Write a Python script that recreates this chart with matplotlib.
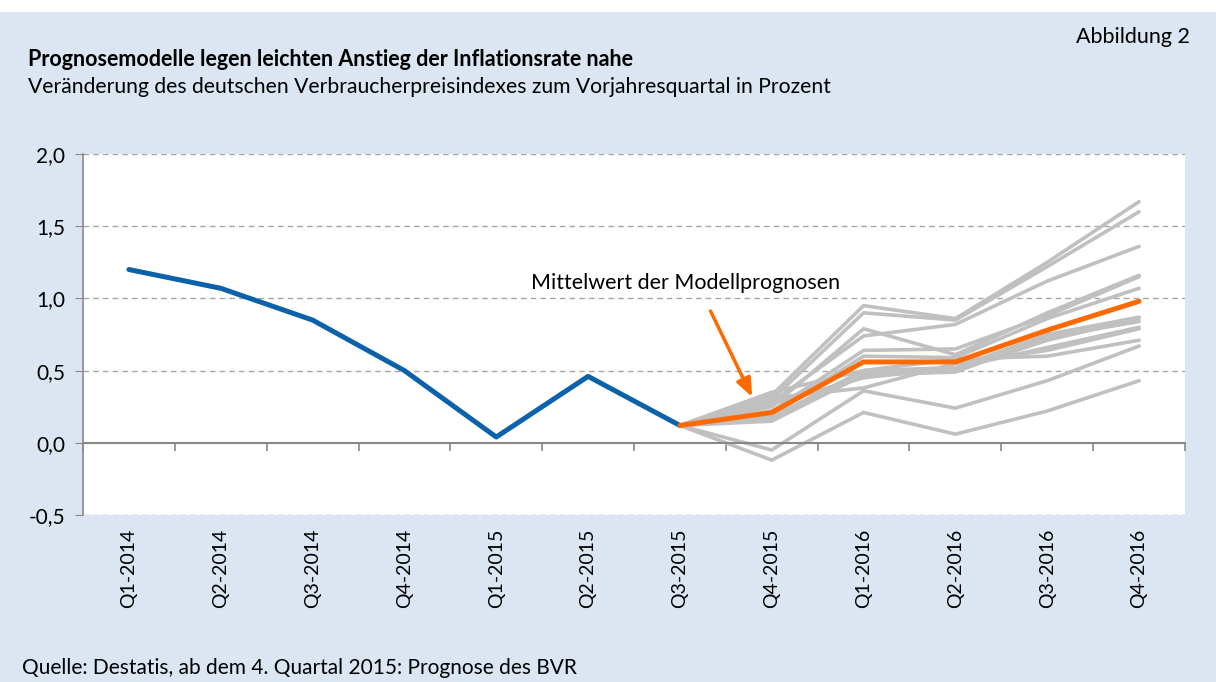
import numpy as np
import matplotlib.pyplot as plt
from matplotlib.patches import Rectangle

plt.rcParams['font.family'] = ['Lato', 'DejaVu Sans']

quarters = ['Q1-2014', 'Q2-2014', 'Q3-2014', 'Q4-2014', 'Q1-2015', 'Q2-2015',
            'Q3-2015', 'Q4-2015', 'Q1-2016', 'Q2-2016', 'Q3-2016', 'Q4-2016']

# Ist-Werte bis Q3-2015
actual = [1.20, 1.07, 0.85, 0.50, 0.04, 0.46, 0.12]

# Mittelwert der Modellprognosen ab Q3-2015
mean_fc = [0.12, 0.21, 0.56, 0.56, 0.78, 0.98]

# einzelne Modellprognosen (Q3-2015 .. Q4-2016)
models = [
    [0.12, 0.33, 0.95, 0.86, 1.25, 1.67],
    [0.12, 0.30, 0.90, 0.85, 1.22, 1.60],
    [0.12, 0.28, 0.74, 0.82, 1.12, 1.36],
    [0.12, 0.25, 0.79, 0.61, 0.90, 1.16],
    [0.12, 0.22, 0.64, 0.65, 0.88, 1.15],
    [0.12, 0.20, 0.60, 0.59, 0.86, 1.07],
    [0.12, 0.18, 0.50, 0.52, 0.75, 0.87],
    [0.12, 0.16, 0.48, 0.50, 0.71, 0.86],
    [0.12, 0.15, 0.47, 0.49, 0.73, 0.84],
    [0.12, 0.27, 0.45, 0.52, 0.66, 0.80],
    [0.12, 0.31, 0.38, 0.55, 0.64, 0.79],
    [0.12, 0.35, 0.50, 0.58, 0.60, 0.71],
    [0.12, -0.05, 0.36, 0.24, 0.43, 0.67],
    [0.12, -0.12, 0.21, 0.06, 0.22, 0.43],
]

bg = '#dce6f2'
fig = plt.figure(figsize=(12.16, 6.82), dpi=100, facecolor=bg)
fig.patches.append(Rectangle((0, 1 - 12/682), 1, 12/682, transform=fig.transFigure,
                             facecolor='white', edgecolor='none', zorder=0))
ax = fig.add_axes([83/1216, 167/682, 1102/1216, 361/682])
ax.set_facecolor('white')

x_all = np.arange(len(quarters))
x_fc = x_all[6:]

for m in models:
    ax.plot(x_fc, m, color='#c0c0c0', lw=2.6, solid_capstyle='round', zorder=2)
ax.plot(x_all[:7], actual, color='#0b62ab', lw=3.6, solid_capstyle='round', zorder=3)
ax.plot(x_fc, mean_fc, color='#ff6a00', lw=3.6, solid_capstyle='round', zorder=4)

ax.set_xlim(-0.5, 11.5)
ax.set_ylim(-0.5, 2.0)
yt = np.arange(-0.5, 2.01, 0.5)
ax.set_yticks(yt)
ax.set_yticklabels([f'{v:.1f}'.replace('.', ',') for v in yt], fontsize=15)
for v in yt:
    if abs(v) > 1e-9:
        ax.axhline(v, color='#a6a6a6', lw=1, ls=(0, (4, 3)), zorder=1)

for s in ['top', 'right']:
    ax.spines[s].set_visible(False)
ax.spines['left'].set_color('#888888')
ax.spines['left'].set_linewidth(1.2)
ax.spines['bottom'].set_position(('data', 0))
ax.spines['bottom'].set_color('#888888')
ax.spines['bottom'].set_linewidth(1.5)
ax.tick_params(axis='y', length=6, color='#888888', pad=7)
ax.set_xticks(np.arange(-0.5, 11.6, 1))
ax.set_xticklabels([])
ax.tick_params(axis='x', length=6, color='#888888', width=1.2)

sec = ax.secondary_xaxis('bottom')
sec.set_xticks(x_all)
sec.set_xticklabels(quarters, rotation=90, fontsize=14)
sec.tick_params(length=0, pad=10)
sec.spines['bottom'].set_visible(False)

ax.annotate('', xy=(6.8, 0.30), xytext=(6.32, 0.93),
            arrowprops=dict(arrowstyle='-|>,head_length=1.1,head_width=0.45',
                            color='#ff6a00', lw=2.5), zorder=5)
ax.text(6.06, 1.11, 'Mittelwert der Modellprognosen', fontsize=15.5,
        ha='center', va='center', zorder=5)

fig.text(28/1216, 1 - 60/682, 'Prognosemodelle legen leichten Anstieg der Inflationsrate nahe',
         fontsize=15.5, fontweight='bold', ha='left', va='center')
fig.text(28/1216, 1 - 87/682, 'Veränderung des deutschen Verbraucherpreisindexes zum Vorjahresquartal in Prozent',
         fontsize=15.2, ha='left', va='center')
fig.text(1190/1216, 1 - 37/682, 'Abbildung 2', fontsize=15.5, ha='right', va='center')
fig.text(22/1216, 1 - 668/682, 'Quelle: Destatis, ab dem 4. Quartal 2015: Prognose des BVR',
         fontsize=15, ha='left', va='center')

fig.savefig('out.png', dpi=100, facecolor=bg)
